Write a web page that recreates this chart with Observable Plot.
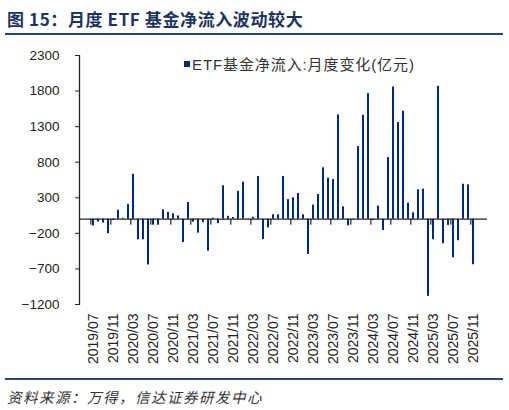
<!DOCTYPE html>
<html>
<head>
<meta charset="utf-8">
<script src="https://cdn.jsdelivr.net/npm/d3@7"></script>
<script src="https://cdn.jsdelivr.net/npm/@observablehq/plot@0.6"></script>
<style>
  body { margin: 0; background: #fff; }
  #wrap { position: relative; width: 509px; height: 410px; overflow: hidden; font-family: "Liberation Sans", "Noto Sans CJK SC", sans-serif; }
  #title { position: absolute; left: 7px; top: 6px; font-family: "Noto Sans CJK SC", sans-serif; font-weight: bold; font-size: 17px; color: #1d3461; letter-spacing: 0.6px; white-space: nowrap; }
  .rule { position: absolute; left: 5px; width: 498px; height: 2px; background: #2a4476; }
  #legend { position: absolute; left: 184px; top: 53px; font-family: "Liberation Sans", "Noto Sans CJK SC", sans-serif; font-size: 15px; color: #333; white-space: nowrap; display: flex; align-items: center; letter-spacing: 0.9px; }
  #legend i { display: inline-block; width: 6px; height: 6px; background: #00287f; margin-right: 2px; }
  #source { position: absolute; left: 7px; top: 386px; font-family: "Noto Sans CJK SC", sans-serif; font-style: italic; font-size: 14.5px; color: #333; white-space: nowrap; letter-spacing: 1.5px; }
  #chart { position: absolute; left: 0; top: 40px; }
</style>
</head>
<body>
<div id="wrap">
  <div id="title">图 15：月度 ETF 基金净流入波动较大</div>
  <div class="rule" style="top:33px"></div>
  <div id="chart"></div>
  <div id="legend"><i></i>ETF基金净流入:月度变化(亿元)</div>
  <div class="rule" style="top:378px"></div>
  <div id="source">资料来源：万得，信达证券研发中心</div>
</div>
<script>
// 月份 2019/07 - 2025/11
const months = d3.utcMonth.range(new Date(Date.UTC(2019, 6, 1)), new Date(Date.UTC(2025, 11, 1)))
  .map(d3.utcFormat("%Y/%m"));

// ETF基金净流入:月度变化(亿元)
const flows = [
  -95, -40, -55, -205, -20, 125,
  12, 205, 630, -290, -290, -645, -85, -85, 130, 95, 75, 45,
  -330, 234, -42, -197, -50, -450, 14, -63, 468, 40, 23, 390,
  520, 5, 25, 600, -288, -124, 61, 61, 600, 274, 300, 360,
  61, -496, 197, 346, 721, 576, 557, 1465, 173, -94, -8, 1020,
  1460, 1765, -20, 183, -160, 866, 1858, 1357, 1516, 225, 89, 412,
  421, -1086, -290, 1867, -346, -88, -543, -304, 491, 482, -641
];

const yTicks = [-1200, -700, -200, 300, 800, 1300, 1800, 2300];
const xLabels = months.filter((d, i) => i % 4 === 0);

const data = months.map((m, i) => ({month: m, value: flows[i]}));

const width = 509;
const marginLeft = 79;
const marginRight = 22;
const halfBand = (width - marginLeft - marginRight) / months.length / 2;

// 零轴上的刻度线
const tickShape = {
  draw(context, l) {
    context.moveTo(0, 0);
    context.lineTo(0, -l);
  }
};

const plot = Plot.plot({
  width: width,
  height: 335,
  marginTop: 15,
  marginBottom: 71,
  marginLeft: marginLeft,
  marginRight: marginRight,
  style: {fontFamily: "Liberation Sans, sans-serif", color: "#222", background: "transparent"},
  x: {type: "band", domain: months, paddingInner: 0.6, paddingOuter: 0, label: null},
  y: {domain: [-1200, 2300], label: null},
  marks: [
    Plot.barY(data, {x: "month", y: "value", fill: "#00287f"}),
    Plot.ruleY([0], {stroke: "#222", strokeWidth: 1.3}),
    Plot.frame({anchor: "left", stroke: "#222", strokeWidth: 1.3}),
    Plot.vector(xLabels, {x: d => d, y: 0, length: 5, rotate: 180, anchor: "start", shape: tickShape, stroke: "#222", strokeWidth: 1.2, dx: -halfBand}),
    Plot.axisY({ticks: yTicks, tickSize: 4, tickPadding: 16, fontSize: 13.5, label: null, tickFormat: d => d < 0 ? "\u2212" + Math.abs(d) : String(d)}),
    Plot.axisX({ticks: xLabels, tickRotate: -90, tickSize: 0, tickPadding: 9, fontSize: 14, label: null})
  ]
});

d3.select('#chart').append(() => plot);
</script>
</body>
</html>
